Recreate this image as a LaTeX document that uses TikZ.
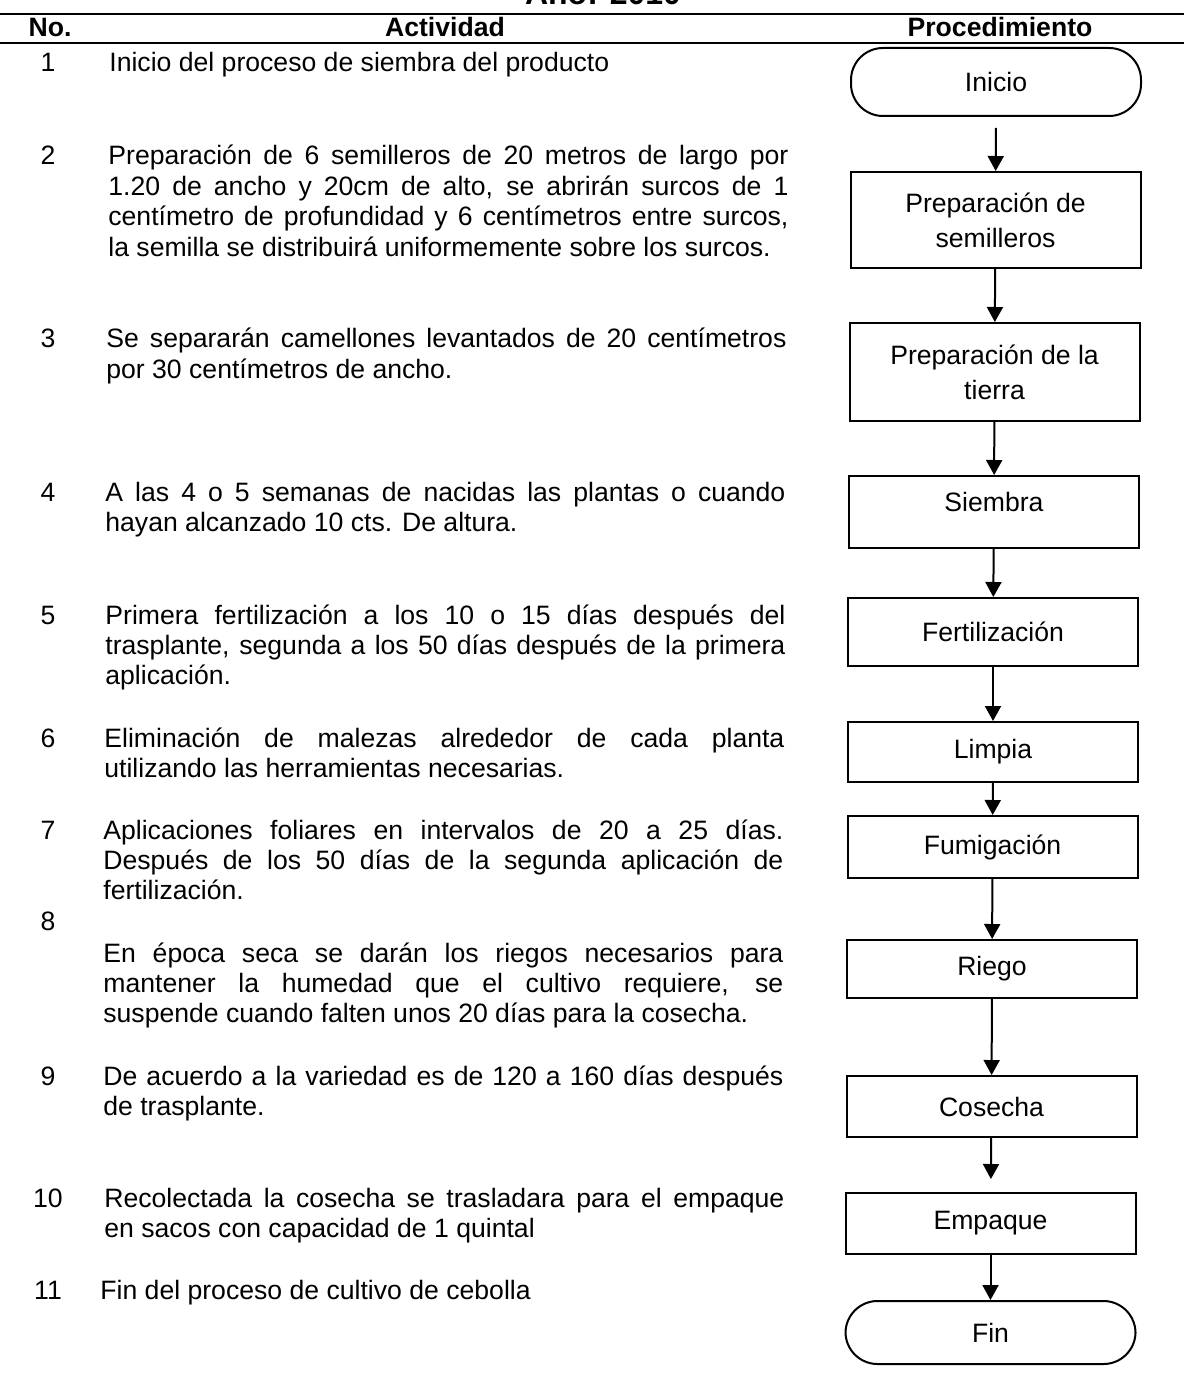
\documentclass[tikz,border=0pt]{standalone}
\usepackage{fontspec}
\setmainfont{Liberation Sans}
\usepackage{tikz}
\usetikzlibrary{positioning}
\usetikzlibrary{arrows.meta}

\begin{document}
\begin{tikzpicture}[x=0.5pt,y=-0.5pt,
	every node/.style={font=\fontsize{13.3}{15.2}\selectfont,inner sep=0pt},
	cabecera/.style={font=\fontsize{13.3}{15.2}\selectfont\bfseries,anchor=base},
	num/.style={anchor=base},
	desc/.style={anchor=base west,text width=340pt,align=justify},
	paso/.style={draw,line width=1pt,minimum width=145pt,align=center,
		font=\fontsize{13.3}{17.5}\selectfont},
	extremo/.style={paso,rounded corners=16pt},
	flecha/.style={line width=1pt,-{Triangle[length=7.5pt,width=8pt]}}]
	\useasboundingbox (0,0) rectangle (1184,1374);

	% encabezado
	\node[cabecera,font=\fontsize{16}{18}\selectfont\bfseries] (anio) at (603,5) {Año: 2010};
	\draw[line width=1pt] (0,14) coordinate (l1) -- (1184,14) coordinate (r1);
	\node[cabecera] (hno) at (50,37) {No.};
	\node[cabecera] (hact) at (445,37) {Actividad};
	\node[cabecera] (hproc) at (1000,37) {Procedimiento};
	\draw[line width=1pt] (0,43) coordinate (l2) -- (1184,43) coordinate (r2);

	% numeros
	\foreach \n/\y in {1/72,2/165,3/348,4/501,5/624,6/747,7/839,8/930,9/1085,10/1207,11/1299}
		\node[num] (n\n) at (48,\y) {\n};

	% actividades
	\node[desc] (d1) at (109,72) {Inicio del proceso de siembra del producto};
	\node[desc] (d2) at (108,165) {Preparación de 6 semilleros de 20 metros de largo por\linebreak
		1.20 de ancho y 20cm de alto, se abrirán surcos de 1\linebreak
		centímetro de profundidad y 6 centímetros entre surcos,\linebreak
		la semilla se distribuirá uniformemente sobre los surcos.};
	\node[desc] (d3) at (106,348) {Se separarán camellones levantados de 20 centímetros\linebreak
		por 30 centímetros de ancho.};
	\node[desc] (d4) at (105,501) {A las 4 o 5 semanas de nacidas las plantas o cuando\linebreak
		hayan alcanzado 10 cts. De altura.};
	\node[desc] (d5) at (105,624) {Primera fertilización a los 10 o 15 días después del\linebreak
		trasplante, segunda a los 50 días después de la primera\linebreak
		aplicación.};
	\node[desc] (d6) at (104,747) {Eliminación de malezas alrededor de cada planta\linebreak
		utilizando las herramientas necesarias.};
	\node[desc] (d7) at (103,839) {Aplicaciones foliares en intervalos de 20 a 25 días.\linebreak
		Después de los 50 días de la segunda aplicación de\linebreak
		fertilización.};
	\node[desc] (d8) at (103,962) {En época seca se darán los riegos necesarios para\linebreak
		mantener la humedad que el cultivo requiere, se\linebreak
		suspende cuando falten unos 20 días para la cosecha.};
	\node[desc] (d9) at (103,1085) {De acuerdo a la variedad es de 120 a 160 días después\linebreak
		de trasplante.};
	\node[desc] (d10) at (104,1207) {Recolectada la cosecha se trasladara para el empaque\linebreak
		en sacos con capacidad de 1 quintal};
	\node[desc] (d11) at (100,1299) {Fin del proceso de cultivo de cebolla};

	% procedimiento
	\node[extremo,minimum height=34pt] (inicio) at (996,82) {Inicio};
	\node[paso,minimum height=48pt] (semilleros) at (995.5,220) {Preparación de\\semilleros};
	\node[paso,minimum height=49pt] (tierra) at (994.5,372) {Preparación de la\\tierra};
	\node[paso,minimum height=36pt,text depth=10pt] (siembra) at (994,512) {Siembra};
	\node[paso,minimum height=34pt] (fertilizacion) at (993,632) {Fertilización};
	\node[paso,minimum height=30pt] (limpia) at (993,752) {Limpia};
	\node[paso,minimum height=31pt] (fumigacion) at (992.5,847) {Fumigación};
	\node[paso,minimum height=29pt] (riego) at (992,969) {Riego};
	\node[paso,minimum height=30.5pt] (cosecha) at (991.5,1106.5) {Cosecha};
	\node[paso,minimum height=30.5pt] (empaque) at (990.5,1223.5) {Empaque};
	\node[extremo,minimum height=31.5pt] (fin) at (990.5,1332.5) {Fin};

	\draw[flecha,shorten <=5.5pt] (inicio) -- (semilleros);
	\draw[flecha] (semilleros) -- (tierra);
	\draw[flecha] (tierra) -- (siembra);
	\draw[flecha] (siembra) -- (fertilizacion);
	\draw[flecha] (fertilizacion) -- (limpia);
	\draw[flecha] (limpia) -- (fumigacion);
	\draw[flecha] (fumigacion) -- (riego);
	\draw[flecha] (riego) -- (cosecha);
	\draw[flecha,shorten >=6.5pt] (cosecha) -- (empaque);
	\draw[flecha] (empaque) -- (fin);
\end{tikzpicture}
\end{document}
